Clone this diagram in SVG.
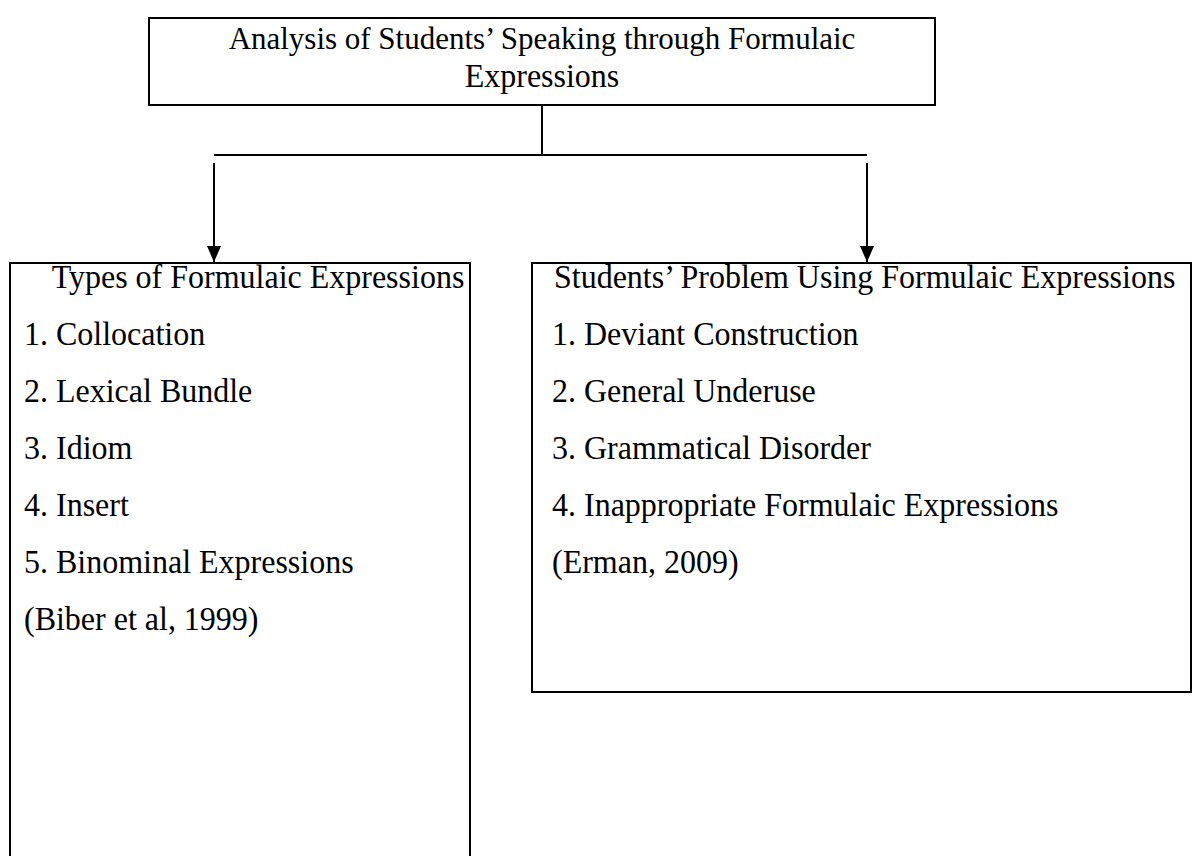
<svg xmlns="http://www.w3.org/2000/svg" width="1202" height="856" viewBox="0 0 1202 856">
<defs>
<style>
.box{fill:#fff;stroke:#000;stroke-width:2}
.t{font-family:"Liberation Serif","Times New Roman",serif;font-size:32px;fill:#000}
.c{text-anchor:middle}
.ln{stroke:#000;stroke-width:2;fill:none}
</style>
<marker id="ah" markerWidth="16" markerHeight="14" refX="16" refY="7" orient="auto" markerUnits="userSpaceOnUse" viewBox="0 0 16 14">
<path d="M0,0 L16,7 L0,14 z" fill="#000"/>
</marker>
</defs>
<rect width="1202" height="856" fill="#fff"/>
<g id="connectors">
<line class="ln" x1="542" y1="105" x2="542" y2="155"/>
<line class="ln" x1="214" y1="155" x2="867" y2="155"/>
<line class="ln" x1="214" y1="163" x2="214" y2="262" marker-end="url(#ah)"/>
<line class="ln" x1="867" y1="163" x2="867" y2="262" marker-end="url(#ah)"/>
</g>
<g id="top">
<rect class="box" x="149" y="18" width="786" height="87"/>
<text class="t c" style="font-size:31px" transform="translate(542,49) scale(1,1.05)">Analysis of Students’ Speaking through Formulaic</text>
<text class="t c" transform="translate(542,87) scale(1,1.05)">Expressions</text>
</g>
<g id="types">
<path class="ln" d="M10,870 V263 H470 V870"/>
<text class="t c" transform="translate(258,288) scale(1,1.05)">Types of Formulaic Expressions</text>
<text class="t" transform="translate(24,345) scale(1,1.05)">1. Collocation</text>
<text class="t" transform="translate(24,402) scale(1,1.05)">2. Lexical Bundle</text>
<text class="t" transform="translate(24,459) scale(1,1.05)">3. Idiom</text>
<text class="t" transform="translate(24,516) scale(1,1.05)">4. Insert</text>
<text class="t" transform="translate(24,573) scale(1,1.05)">5. Binominal Expressions</text>
<text class="t" transform="translate(24,630) scale(1,1.05)">(Biber et al, 1999)</text>
</g>
<g id="problems">
<rect class="box" x="532" y="263" width="659" height="429"/>
<text class="t" transform="translate(554,288) scale(1,1.05)">Students’ Problem Using Formulaic Expressions</text>
<text class="t" transform="translate(552,345) scale(1,1.05)">1. Deviant Construction</text>
<text class="t" transform="translate(552,402) scale(1,1.05)">2. General Underuse</text>
<text class="t" transform="translate(552,459) scale(1,1.05)">3. Grammatical Disorder</text>
<text class="t" transform="translate(552,516) scale(1,1.05)">4. Inappropriate Formulaic Expressions</text>
<text class="t" transform="translate(552,573) scale(1,1.05)">(Erman, 2009)</text>
</g>
</svg>
